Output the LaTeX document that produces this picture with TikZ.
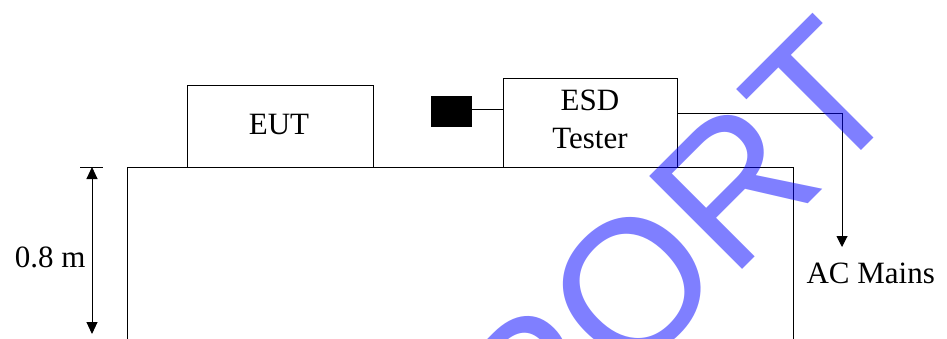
\documentclass[tikz,border=0pt]{standalone}
\usepackage{fontspec}
\setmainfont{Liberation Serif}
\newfontfamily\wmfont{Liberation Sans}
\usetikzlibrary{arrows.meta}
\begin{document}
\begin{tikzpicture}[x=1pt,y=-1pt, line width=1pt,
  box/.style={draw, rectangle, inner sep=0pt},
  lbl/.style={font=\fontsize{31}{38}\selectfont, inner sep=0pt},
  tip/.style={-{Triangle[length=11pt,width=11pt]}},
  dimtips/.style={{Triangle[length=12pt,width=11pt]}-{Triangle[length=12pt,width=11pt]}}]
\useasboundingbox (0,0) rectangle (947,338);
\clip (0,0) rectangle (947,338);
% table
\coordinate (tbl) at (127,345);
\coordinate (tbltl) at (127,167);
\coordinate (tbltr) at (793,167);
\coordinate (tblbr) at (793,345);
\draw (tbl) -- (tbltl) -- (tbltr) -- (tblbr);
% height dimension
\coordinate (dimtop) at (92,167);
\coordinate (dimbot) at (92,334);
\coordinate (ticka) at (80,167);
\coordinate (tickb) at (103,167);
\draw (ticka) -- (tickb);
\draw[dimtips] (dimtop) -- (dimbot);
\node[lbl, anchor=base east] (height) at (86,267) {0.8 m};
% EUT
\node[box, minimum width=186pt, minimum height=82pt] (eut) at (280,126) {};
\node[lbl, anchor=base] (eutl) at (279,134) {EUT};
% ESD tester
\node[box, minimum width=174pt, minimum height=89pt] (esd) at (590,122.5) {};
\node[lbl, anchor=base] (esdl) at (590,110) {ESD};
\node[lbl, anchor=base] (testl) at (590,148.3) {Tester};
% probe
\node[draw, fill=black, minimum width=40pt, minimum height=30pt, inner sep=0pt] (probe) at (451,111) {};
\coordinate (probeout) at (471,109);
\draw (probeout) -- (probeout -| esd.west);
% AC mains
\coordinate (acturn) at (842,113);
\coordinate (acend) at (842,247);
\draw[tip] (acturn -| esd.east) -- (acturn) -- (acend);
\node[lbl, anchor=base west] (ac) at (806,283) {AC Mains};
% watermark
\node[font=\wmfont\fontsize{191}{191}\selectfont, text=blue, text opacity=0.5,
      rotate=45, anchor=base west, inner sep=0pt] (wm) at (348.6,664) {REPORT};
\end{tikzpicture}
\end{document}
